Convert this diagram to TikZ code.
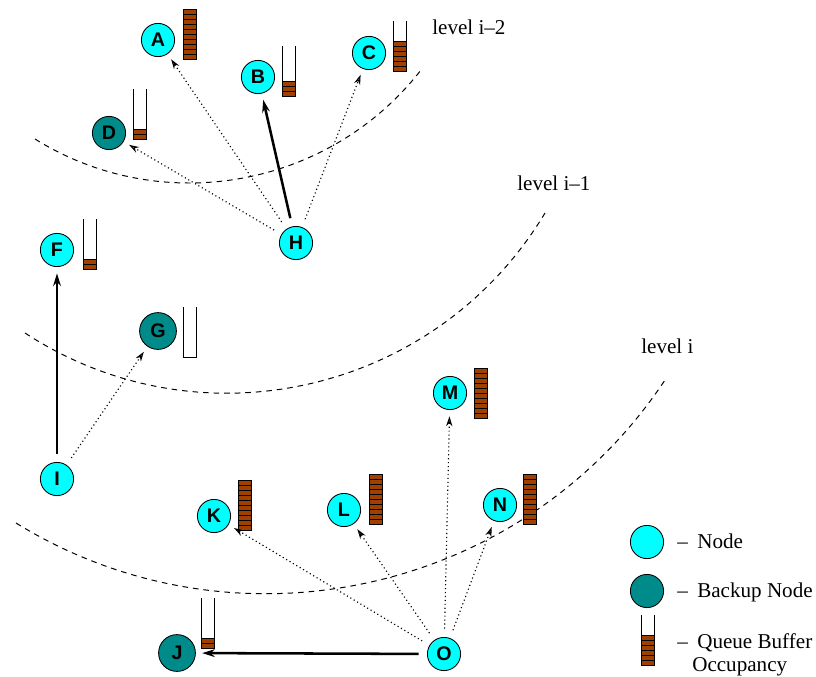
\documentclass[tikz,border=0pt]{standalone}
\usepackage{fontspec}
\setmainfont{Liberation Serif}
\setsansfont{Liberation Sans}
\usepackage{tikz}
\usetikzlibrary{arrows.meta}

\definecolor{nodecyan}{RGB}{0,255,255}
\definecolor{backupteal}{RGB}{0,139,139}
\definecolor{qbrown}{RGB}{160,64,0}

% queue buffer: left, top, filled slots
\newcommand{\qbuf}[3]{%
  \ifnum#3>0
    \fill[qbrown] (#1,#2+50-5*#3) rectangle (#1+13,#2+50);
    \foreach \k in {1,...,#3} \draw[line width=0.5pt] (#1,#2+50-5*\k) -- (#1+13,#2+50-5*\k);
  \fi
  \draw[line width=0.6pt] (#1,#2) -- (#1,#2+50) -- (#1+13,#2+50) -- (#1+13,#2);
}

\begin{document}
\begin{tikzpicture}[x=0.025cm, y=-0.025cm, every node/.style={inner sep=0pt},
  peer/.style={circle, draw, line width=0.6pt, fill=nodecyan, minimum size=8.3mm,
    font=\sffamily\bfseries\fontsize{14}{14}\selectfont},
  backup/.style={peer, fill=backupteal},
  probe/.style={dotted, line width=0.8pt, -{Stealth[open, length=7pt, width=4.5pt]},
    shorten >=4.5pt, shorten <=6pt},
  pick/.style={line width=1.8pt, -{Stealth[length=9pt, width=5.5pt]},
    shorten >=4.5pt, shorten <=6pt},
  level/.style={dash pattern=on 4pt off 3.5pt, line width=0.7pt},
  lbl/.style={font=\fontsize{15}{18}\selectfont, anchor=base west}]
  \useasboundingbox (0,0) rectangle (816,677);

  % level boundaries
  \draw[level] (35,139) .. controls (162,218) and (329,188) .. (421,70);
  \draw[level] (25,333) .. controls (201,448) and (437,393) .. (545,213);
  \draw[level] (16,523) .. controls (235,658) and (523,594) .. (665,380);
  \node[lbl] (lvl2) at (432,34) {level i--2};
  \node[lbl] (lvl1) at (517,190) {level i--1};
  \node[lbl] (lvl0) at (641,353) {level i};

  % nodes
  \node[peer] (A) at (158,40) {A};
  \node[peer] (B) at (258,77) {B};
  \node[peer] (C) at (369,53) {C};
  \node[backup] (D) at (109,133) {D};
  \node[peer] (F) at (57,250) {F};
  \node[backup, minimum size=9.2mm] (G) at (158,331) {G};
  \node[peer] (H) at (296,243) {H};
  \node[peer] (I) at (57,479) {I};
  \node[peer] (M) at (450,393) {M};
  \node[peer] (K) at (214,516) {K};
  \node[peer] (L) at (344,510) {L};
  \node[peer] (N) at (500,505) {N};
  \node[backup, minimum size=9.2mm] (J) at (177,653) {J};
  \node[peer] (O) at (444,654) {O};

  % buffers
  \qbuf{183}{9}{10}
  \qbuf{282}{46}{3}
  \qbuf{393}{21}{6}
  \qbuf{133}{89}{2}
  \qbuf{83}{219}{2}
  \qbuf{183}{307}{0}
  \qbuf{474}{368}{10}
  \qbuf{238}{480}{10}
  \qbuf{369}{474}{10}
  \qbuf{523}{474}{10}
  \qbuf{201}{598}{2}

  % forwarding
  \draw[probe] (H) edge (A) edge (C) edge (D);
  \draw[pick] (H) edge (B);
  \draw[probe] (I) edge (G);
  \draw[pick] (I) edge (F);
  \draw[probe] (O) edge (K) edge (L) edge (M) edge (N);
  \draw[pick] (O) edge (J);

  % legend
  \node[peer] (keynode) at (647,542) {};
  \node[backup] (keybackup) at (647,591) {};
  \qbuf{641}{615}{6}
  \node[lbl] (tnode) at (677,548) {--\hspace{0.45em}Node};
  \node[lbl] (tbackup) at (677,597) {--\hspace{0.45em}Backup Node};
  \node[lbl] (tqueue) at (677,648) {--\hspace{0.45em}Queue Buffer};
  \node[lbl] (tocc) at (692,671) {Occupancy};
\end{tikzpicture}
\end{document}
